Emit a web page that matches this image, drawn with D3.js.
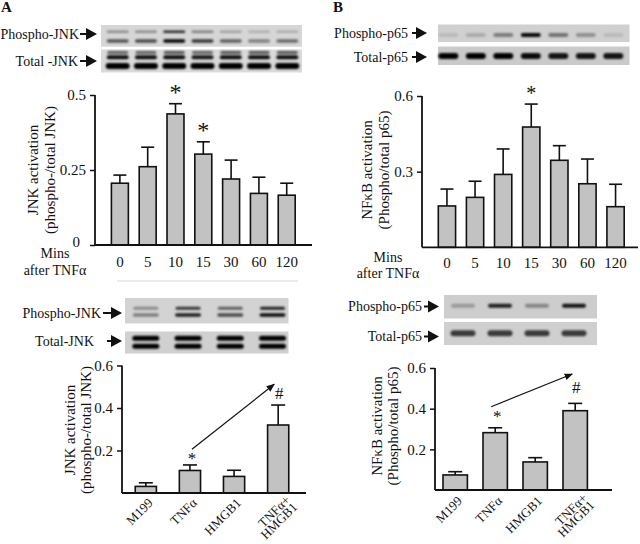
<!DOCTYPE html>
<html><head><meta charset="utf-8">
<script src="https://cdn.jsdelivr.net/npm/d3@7"></script>
<style>body{margin:0;background:#fff}svg{display:block}text{font-family:"Liberation Serif","Times New Roman",serif;fill:#111}</style>
</head><body><div id="c"></div>
<script>
// ---------- DATA ----------
const timeCats = ["0","5","10","15","30","60","120"];
const jnkTime = [0.206,0.261,0.437,0.303,0.220,0.172,0.166];
const jnkTimeSem = [0.027,0.065,0.034,0.041,0.063,0.054,0.040];
const jnkTimeSig = ["","","*","*","","",""];
const nfkbTime = [0.164,0.198,0.289,0.477,0.345,0.252,0.161];
const nfkbTimeSem = [0.067,0.064,0.101,0.091,0.058,0.098,0.089];
const nfkbTimeSig = ["","","","*","","",""];

const treatCats = ["M199","TNFα","HMGB1","TNFα+HMGB1"];
const treatLabels = [["M199"],["TNFα"],["HMGB1"],["TNFα+","HMGB1"]];
const jnkTreat = [0.031,0.106,0.078,0.320];
const jnkTreatSem = [0.017,0.026,0.029,0.094];
const nfkbTreat = [0.074,0.282,0.138,0.390];
const nfkbTreatSem = [0.016,0.024,0.021,0.036];

const ticksATop = [0,0.25,0.5];
const ticksBTop = [0.3,0.6];
const ticksBottom = [0.2,0.4,0.6];

// blot band intensities (0..1)
const jnkPhosUpper = [0.35,0.35,0.8,0.4,0.25,0.18,0.2];
const jnkPhosLower = [0.6,0.65,0.98,0.75,0.55,0.4,0.5];
const jnkTotalUpper = [0.55,0.55,0.6,0.55,0.6,0.6,0.6];
const jnkTotalMid = [0.95,0.95,0.95,0.9,0.95,0.95,0.95];
const jnkTotalLow = [1,1,1,1,1,1,1];
const p65Phos = [0.1,0.18,0.4,0.95,0.45,0.3,0.1];
const p65Total = [1,1,1,0.95,0.9,0.9,0.9];
const jnkTrPhosUpper = [0.35,0.75,0.55,0.85];
const jnkTrPhosLower = [0.4,0.85,0.65,0.95];
const jnkTrTotal = [1,1,1,1];
const p65TrPhos = [0.25,0.85,0.35,0.9];
const p65TrTotal = [0.72,0.72,0.72,0.72];

// ---------- SETUP ----------
const svg = d3.select("#c").append("svg").attr("width",640).attr("height",544);
svg.append("rect").attr("width",640).attr("height",544).attr("fill","#fff");
const defs = svg.append("defs");
defs.append("filter").attr("id","blur").attr("x","-50%").attr("y","-100%").attr("width","200%").attr("height","300%")
  .append("feGaussianBlur").attr("stdDeviation",1.1);
const mk = defs.append("marker").attr("id","ah").attr("viewBox","0 0 10 10").attr("refX",9).attr("refY",5)
  .attr("markerWidth",7).attr("markerHeight",7).attr("orient","auto");
mk.append("path").attr("d","M0,1L10,5L0,9z").attr("fill","#111");

// panel letters
svg.append("text").attr("x",1).attr("y",12).attr("font-size",15).attr("font-weight","bold").text("A");
svg.append("text").attr("x",333).attr("y",12).attr("font-size",15).attr("font-weight","bold").text("B");

function blotLabel(text, xEnd, ay, ax0, ax1){
  svg.append("text").attr("x",xEnd).attr("y",ay).attr("dy","0.35em").attr("text-anchor","end")
    .attr("font-size",14).text(text);
  svg.append("line").attr("x1",ax0).attr("x2",ax1-9).attr("y1",ay).attr("y2",ay).attr("stroke","#111").attr("stroke-width",2);
  svg.append("path").attr("d",`M${ax1-11},${ay-6}L${ax1},${ay}L${ax1-11},${ay+6}z`).attr("fill","#111");
}

function blot(x0,x1,y0,y1,bg,lanes,rows){
  const g = svg.append("g");
  g.append("rect").attr("x",x0).attr("y",y0).attr("width",x1-x0).attr("height",y1-y0).attr("fill",bg);
  const bg2 = g.append("g").attr("filter","url(#blur)");
  rows.forEach(r=>{
    bg2.selectAll(null).data(r.vals).join("rect")
      .attr("x",(d,i)=>lanes(lanes.domain()[i])-r.w/2)
      .attr("y",r.y-r.h/2).attr("width",r.w).attr("height",r.h)
      .attr("rx",r.h/2).attr("fill","#000").attr("fill-opacity",d=>d);
  });
}

function barChart(o){
  const g = svg.append("g");
  g.selectAll(null).data(o.vals).join("rect")
    .attr("x",(d,i)=>o.x(o.cats[i])).attr("width",o.x.bandwidth())
    .attr("y",d=>o.y(d)).attr("height",d=>o.y(0)-o.y(d))
    .attr("fill","#c2c2c2").attr("stroke","#111").attr("stroke-width",1.6);
  const cx = i=>o.x(o.cats[i])+o.x.bandwidth()/2;
  g.selectAll(null).data(o.vals).join("line")
    .attr("x1",(d,i)=>cx(i)).attr("x2",(d,i)=>cx(i))
    .attr("y1",d=>o.y(d)).attr("y2",(d,i)=>o.y(d+o.sem[i]))
    .attr("stroke","#111").attr("stroke-width",1.6);
  g.selectAll(null).data(o.vals).join("line")
    .attr("x1",(d,i)=>cx(i)-o.cap/2).attr("x2",(d,i)=>cx(i)+o.cap/2)
    .attr("y1",(d,i)=>o.y(d+o.sem[i])).attr("y2",(d,i)=>o.y(d+o.sem[i]))
    .attr("stroke","#111").attr("stroke-width",1.6);
  g.append("line").attr("x1",o.axX0).attr("x2",o.axX1).attr("y1",o.y(0)).attr("y2",o.y(0))
    .attr("stroke","#111").attr("stroke-width",1.8);
  const ya = g.append("g").attr("transform",`translate(${o.axX0},0)`)
    .call(d3.axisLeft(o.y).tickValues(o.ticks).tickSize(5).tickPadding(4).tickFormat(o.fmt));
  ya.select(".domain").attr("stroke","#111").attr("stroke-width",1.8).attr("d",`M0,${o.y(0)}V${o.yTop}`);
  ya.selectAll(".tick line").attr("stroke","#111").attr("stroke-width",1.5);
  ya.selectAll(".tick text").attr("font-family","Liberation Serif").attr("font-size",15).attr("fill","#222");
  if(o.tweak) o.tweak(ya);
  o.ylab.forEach((t,k)=>{
    g.append("text").attr("transform",`translate(${o.ylx[k]},${o.yly}) rotate(-90)`)
      .attr("text-anchor","middle").attr("dy","0.35em").attr("font-size",15).text(t);
  });
  return {g,cx};
}

// ---------- PANEL A TOP ----------
const xAT = d3.scaleBand().domain(timeCats).range([95,311.6]).paddingInner(0.39).paddingOuter(0.59);
const yAT = d3.scaleLinear().domain([0,0.5]).range([245,95]);
const lanesAT = d3.scalePoint().domain(timeCats).range([117.7,287.3]);
blot(101,302,25,46.7,"#d6d6d6",lanesAT,[{vals:jnkPhosUpper,y:31.7,h:2.5,w:22},{vals:jnkPhosLower,y:41,h:3.5,w:22}]);
blot(101,302,49.5,72.5,"#dadada",lanesAT,[{vals:jnkTotalUpper,y:52.5,h:3,w:21},{vals:jnkTotalMid,y:57.3,h:4,w:22},{vals:jnkTotalLow,y:66,h:6,w:24}]);
blotLabel("Phospho-JNK",79,34,80,97);
blotLabel("Total -JNK",78,61,80,97);
const cAT = barChart({cats:timeCats,vals:jnkTime,sem:jnkTimeSem,x:xAT,y:yAT,cap:13,axX0:95,axX1:312,yTop:95,
  ticks:ticksATop,fmt:d=>d===0?"0":String(d),ylab:["JNK activation","(phospho-/total JNK)"],ylx:[33,50],yly:170,
  tweak:ya=>{ya.selectAll(".tick").filter(d=>d===0).select("text").attr("x",-15).attr("y",-3);}});
svg.selectAll(null).data(timeCats).join("text").attr("x",d=>xAT(d)+xAT.bandwidth()/2).attr("y",267)
  .attr("text-anchor","middle").attr("font-size",15).text(d=>d);
svg.selectAll(null).data(jnkTimeSig).join("text").attr("x",(d,i)=>cAT.cx(i)).attr("y",(d,i)=>yAT(jnkTime[i]+jnkTimeSem[i])-4)
  .attr("text-anchor","middle").attr("font-size",24).text(d=>d);
svg.append("text").attr("x",55).attr("y",258).attr("text-anchor","middle").attr("font-size",14).text("Mins");
svg.append("text").attr("x",55).attr("y",275).attr("text-anchor","middle").attr("font-size",14).text("after TNFα");
svg.append("line").attr("x1",117).attr("x2",298).attr("y1",281).attr("y2",281).attr("stroke","#d8d8d8").attr("stroke-width",1);

// ---------- PANEL B TOP ----------
const xBT = d3.scaleBand().domain(timeCats).range([422,640.5]).paddingInner(0.385).paddingOuter(0.58);
const yBT = d3.scaleLinear().domain([0,0.6]).range([247.3,96]);
const lanesBT = d3.scalePoint().domain(timeCats).range([448.3,613.3]);
blot(438,629.5,24.5,42,"#d0d0d0",lanesBT,[{vals:p65Phos,y:35,h:4,w:20}]);
blot(438,629.5,46.5,65,"#cacaca",lanesBT,[{vals:p65Total,y:56,h:6,w:20}]);
blotLabel("Phospho-p65",408,33,412,427);
blotLabel("Total-p65",408,57,412,427);
const cBT = barChart({cats:timeCats,vals:nfkbTime,sem:nfkbTimeSem,x:xBT,y:yBT,cap:13,axX0:422,axX1:638,yTop:96,
  ticks:ticksBTop,fmt:d=>String(d),ylab:["NFκB activation","(Phospho/total p65)"],ylx:[367,384],yly:170});
svg.selectAll(null).data(timeCats).join("text").attr("x",d=>xBT(d)+xBT.bandwidth()/2).attr("y",268)
  .attr("text-anchor","middle").attr("font-size",15).text(d=>d);
svg.selectAll(null).data(nfkbTimeSig).join("text").attr("x",(d,i)=>cBT.cx(i)).attr("y",(d,i)=>yBT(nfkbTime[i]+nfkbTimeSem[i])-4)
  .attr("text-anchor","middle").attr("font-size",20).attr("fill","#333").text(d=>d);
svg.append("text").attr("x",388).attr("y",262).attr("text-anchor","middle").attr("font-size",14).text("Mins");
svg.append("text").attr("x",388).attr("y",278).attr("text-anchor","middle").attr("font-size",14).text("after TNFα");

// ---------- PANEL A BOTTOM ----------
const xAB = d3.scaleBand().domain(treatCats).range([122,302]).paddingInner(0.52).paddingOuter(0.3);
const yAB = d3.scaleLinear().domain([0,0.6]).range([493,365.5]);
const lanesAB = d3.scalePoint().domain(treatCats).range([145.8,272.5]);
blot(125,288.5,298,323.5,"#d3d3d3",lanesAB,[{vals:jnkTrPhosUpper,y:308.3,h:3,w:25},{vals:jnkTrPhosLower,y:315,h:3.5,w:26}]);
blot(125,288.5,331.5,353.5,"#d0d0d0",lanesAB,[{vals:jnkTrTotal,y:338.3,h:5,w:27},{vals:jnkTrTotal,y:346.3,h:5,w:27}]);
blotLabel("Phospho-JNK",101,313,103,122);
blotLabel("Total-JNK",94,341,107,122);
const cAB = barChart({cats:treatCats,vals:jnkTreat,sem:jnkTreatSem,x:xAB,y:yAB,cap:14,axX0:122,axX1:306,yTop:365.5,
  ticks:ticksBottom,fmt:d=>String(d),ylab:["JNK activation","(phospho-/total JNK)"],ylx:[70,86],yly:430});

// ---------- PANEL B BOTTOM ----------
const xBB = d3.scaleBand().domain(treatCats).range([435,595.4]).paddingInner(0.39).paddingOuter(0.2);
const yBB = d3.scaleLinear().domain([0,0.6]).range([490,368]);
const lanesBB = d3.scalePoint().domain(treatCats).range([463,574]);
blot(444,597,295,318.5,"#cdcdcd",lanesBB,[{vals:p65TrPhos,y:305.7,h:4,w:24}]);
blot(444,597,322,345,"#cfcfcf",lanesBB,[{vals:p65TrTotal,y:333.3,h:6,w:25}]);
blotLabel("Phospho-p65",422,306.5,424,439);
blotLabel("Total-p65",422,336.5,424,439);
const cBB = barChart({cats:treatCats,vals:nfkbTreat,sem:nfkbTreatSem,x:xBB,y:yBB,cap:14,axX0:435,axX1:612,yTop:368,
  ticks:ticksBottom,fmt:d=>String(d),ylab:["NFκB activation","(Phospho/total p65)"],ylx:[377,393],yly:426});

// rotated category labels + significance + arrows for bottom panels
function bottomDecor(c, yBase, vals, sems, yS, sOff, hOff, arr){
  treatLabels.forEach((lines,i)=>{
    const multi = lines.length>1;
    const t = svg.append("text").attr("transform",`translate(${c.cx(i)+(multi?10:5)},${yBase-(multi?3:0)}) rotate(-45)`)
      .attr("text-anchor","end").attr("font-size",13);
    lines.forEach((l,k)=>t.append("tspan").attr("x",0).attr("dy",k===0?"0.3em":"0.78em").text(l));
  });
  const t1 = yS(vals[1]+sems[1]), t3 = yS(vals[3]+sems[3]);
  svg.append("text").attr("x",c.cx(1)+2).attr("y",t1-sOff).attr("text-anchor","middle").attr("font-size",17).attr("fill","#333").text("*");
  svg.append("text").attr("x",c.cx(3)+1).attr("y",t3-hOff).attr("text-anchor","middle").attr("font-size",17).attr("fill","#333").text("#");
  svg.append("line").attr("x1",c.cx(1)+arr[0]).attr("y1",t1-arr[1]).attr("x2",c.cx(3)+arr[2]).attr("y2",t3-arr[3])
    .attr("stroke","#111").attr("stroke-width",1.2).attr("marker-end","url(#ah)");
}
bottomDecor(cAB,501,jnkTreat,jnkTreatSem,yAB,1,6,[2,15.7,-4,20.7]);
bottomDecor(cBB,499,nfkbTreat,nfkbTreatSem,yBB,5.5,10.5,[-4,21,-3,29.4]);
</script></body></html>
